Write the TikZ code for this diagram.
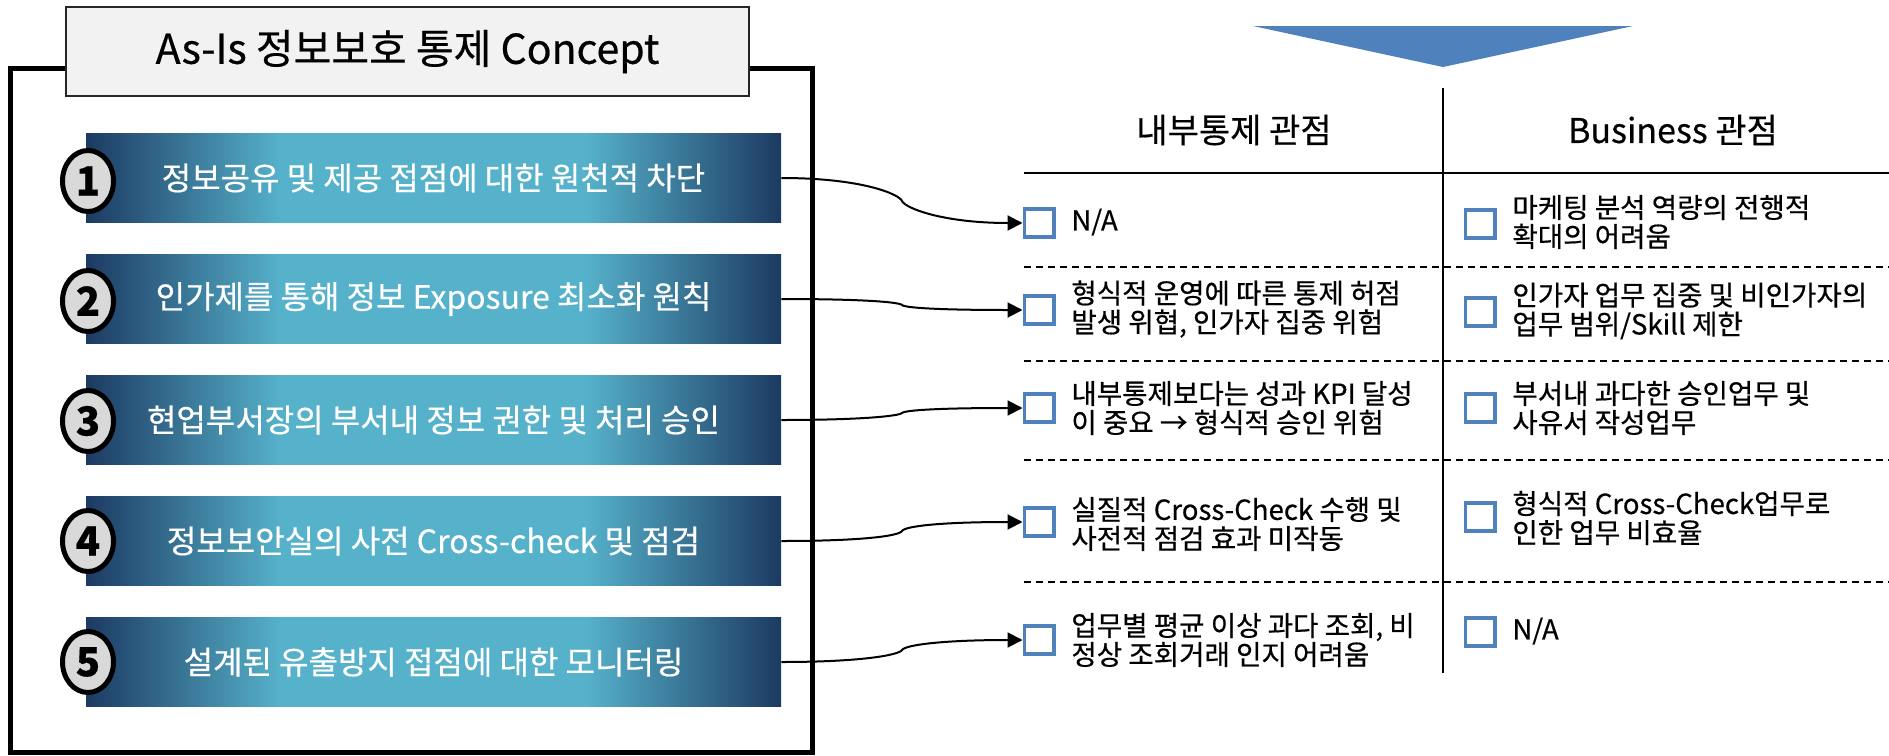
\documentclass[tikz,border=0pt]{standalone}
\usepackage{fontspec}
\setmainfont{Noto Sans CJK KR}[FakeBold=0.5]
\usetikzlibrary{arrows.meta,shapes.geometric,calc}
\definecolor{bardark}{HTML}{1C3A62}
\definecolor{barlight}{HTML}{56B1CA}
\definecolor{chkblue}{HTML}{4F81BD}
\definecolor{titlefill}{HTML}{F2F2F2}
\definecolor{numfill}{HTML}{D9D9D9}
\pgfdeclarehorizontalshading{barshade}{100bp}{color(0bp)=(bardark); color(25bp)=(bardark); color(39bp)=(barlight); color(61bp)=(barlight); color(75bp)=(bardark); color(100bp)=(bardark)}
\begin{document}
\begin{tikzpicture}[x=0.5pt,y=-0.5pt,
  frame/.style={line width=2.5pt},
  titlebox/.style={draw=black!85, line width=1pt, fill=titlefill, minimum width=341.5pt, minimum height=44.5pt, inner sep=0pt, font=\fontsize{20.5pt}{23pt}\selectfont},
  barbox/.style={shade, shading=barshade, minimum width=347.5pt, minimum height=44.5pt, inner sep=0pt, text=white, font=\fontsize{16pt}{19pt}\selectfont},
  numcirc/.style={ellipse, draw=black, line width=2.5pt, fill=numfill, minimum width=25.5pt, minimum height=30.5pt, inner sep=0pt, font=\fontsize{20pt}{22pt}\selectfont\bfseries},
  chk/.style={draw=chkblue, line width=1.9pt, fill=white, minimum width=14.6pt, minimum height=14.1pt, inner sep=0pt},
  txt/.style={anchor=west, align=left, inner sep=0pt, font=\fontsize{13.8pt}{14.5pt}\selectfont},
  head/.style={inner sep=0pt, font=\fontsize{17pt}{19pt}\selectfont},
  conn/.style={line width=1pt, -{Triangle[length=7.5pt,width=7.5pt]}},
  sepline/.style={line width=1.25pt},
  dashline/.style={line width=1pt, dash pattern=on 3.5pt off 2.5pt}
]
\useasboundingbox (0,0) rectangle (1889,755);

% outer frame and title
\draw[frame] (10,68) rectangle (812,752);
\node[titlebox] (title) at (407.5,51.5) {As-Is 정보보호 통제 Concept};

% bars
\node[barbox] (b1) at (433.5,178) {정보공유 및 제공 접점에 대한 원천적 차단};
\node[barbox] (b2) at (433.5,299) {인가제를 통해 정보 Exposure 최소화 원칙};
\node[barbox] (b3) at (433.5,420) {현업부서장의 부서내 정보 권한 및 처리 승인};
\node[barbox] (b4) at (433.5,541) {정보보안실의 사전 Cross-check 및 점검};
\node[barbox] (b5) at (433.5,662) {설계된 유출방지 접점에 대한 모니터링};

% number circles
\node[numcirc] (n1) at (88,181) {1};
\node[numcirc] (n2) at (88,301) {2};
\node[numcirc] (n3) at (88,421) {3};
\node[numcirc] (n4) at (88,541) {4};
\node[numcirc] (n5) at (88,662) {5};

% triangle
\fill[chkblue] (1253,26) -- (1633,26) -- (1443,67) -- cycle;

% table lines
\draw[sepline] (1443,88) -- (1443,673);
\draw[sepline] (1024,173) -- (1889,173);
\draw[dashline] (1024,267) -- (1889,267);
\draw[dashline] (1024,361) -- (1889,361);
\draw[dashline] (1024,460) -- (1889,460);
\draw[dashline] (1024,582) -- (1889,582);

% headers
\node[head] (h1) at (1234,130) {내부통제 관점};
\node[head] (h2) at (1673,130) {Business 관점};

% left column
\node[chk] (c1) at (1039,223) {};
\node[chk] (c2) at (1039,310) {};
\node[chk] (c3) at (1039,408) {};
\node[chk] (c4) at (1039,522) {};
\node[chk] (c5) at (1039,640) {};
\node[txt] (l1) at (1071,222) {N/A};
\node[txt] (l2) at (1071,309) {형식적 운영에 따른 통제 허점\\발생 위협, 인가자 집중 위험};
\node[txt] (l3) at (1071,408) {내부통제보다는 성과 KPI 달성\\이 중요 → 형식적 승인 위험};
\node[txt] (l4) at (1071,524) {실질적 Cross-Check 수행 및\\사전적 점검 효과 미작동};
\node[txt] (l5) at (1071,640) {업무별 평균 이상 과다 조회, 비\\정상 조회거래 인지 어려움};

% right column
\node[chk] (d1) at (1480,224) {};
\node[chk] (d2) at (1480,312) {};
\node[chk] (d3) at (1480,408) {};
\node[chk] (d4) at (1480,517) {};
\node[chk] (d5) at (1480,632) {};
\node[txt] (r1) at (1512,222) {마케팅 분석 역량의 전행적\\확대의 어려움};
\node[txt] (r2) at (1512,311) {인가자 업무 집중 및 비인가자의\\업무 범위/Skill 제한};
\node[txt] (r3) at (1512,408) {부서내 과다한 승인업무 및\\사유서 작성업무};
\node[txt] (r4) at (1512,518) {형식적 Cross-Check업무로\\인한 업무 비효율};
\node[txt] (r5) at (1512,631) {N/A};

% connectors
\coordinate (m1) at (902,201);
\coordinate (m2) at (902,305);
\coordinate (m3) at (902,413);
\coordinate (m4) at (902,531);
\coordinate (m5) at (902,650);
\draw[conn] (b1.east) .. controls +(80,0) and +(-3,-7) .. (m1) .. controls +(3,7) and +(-80,0) .. (c1.west);
\draw[conn] (b2.east) .. controls +(80,0) and +(-3,-3) .. (m2) .. controls +(3,3) and +(-80,0) .. (c2.west);
\draw[conn] (b3.east) .. controls +(80,0) and +(-3,3) .. (m3) .. controls +(3,-3) and +(-80,0) .. (c3.west);
\draw[conn] (b4.east) .. controls +(80,0) and +(-3,5) .. (m4) .. controls +(3,-5) and +(-80,0) .. (c4.west);
\draw[conn] (b5.east) .. controls +(80,0) and +(-3,5) .. (m5) .. controls +(3,-5) and +(-80,0) .. (c5.west);
\end{tikzpicture}
\end{document}
